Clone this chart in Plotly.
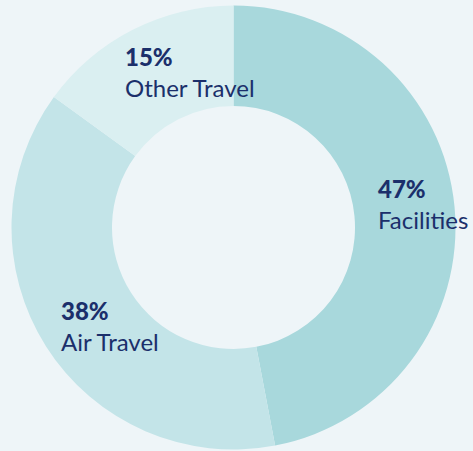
import plotly.graph_objects as go

categories = ["Facilities", "Air Travel", "Other Travel"]
values = [47, 38, 15]
colors = ["#a8d8dc", "#c3e4e8", "#daeff1"]

W, H = 473, 451
cx, cy, R = 233.5, 227.5, 222  # pixel centre (from top) and outer radius
hole = 121.5 / R

fig = go.Figure(go.Pie(
    labels=categories,
    values=values,
    sort=False,
    direction="clockwise",
    rotation=0,
    hole=hole,
    marker=dict(colors=colors, line=dict(width=0)),
    textinfo="none",
    hoverinfo="label+percent",
    showlegend=False,
    domain=dict(x=[(cx - R) / W, (cx + R) / W],
                y=[(H - cy - R) / H, (H - cy + R) / H]),
))

# label anchor positions (pixel, top-left of text block)
label_pos = {"Facilities": (376, 172), "Air Travel": (59, 294), "Other Travel": (123, 40)}
navy = "#1b2f6b"
for cat, val in zip(categories, values):
    px, py = label_pos[cat]
    fig.add_annotation(
        x=px / W, y=1 - py / H, xref="paper", yref="paper",
        xanchor="left", yanchor="top", align="left", showarrow=False,
        text=f"<span style='font-weight:900'>{val}%</span><br>{cat}",
        font=dict(family="Lato, 'Open Sans', sans-serif", size=24, color=navy),
    )

fig.update_layout(
    width=W, height=H,
    margin=dict(l=0, r=0, t=0, b=0),
    paper_bgcolor="#eef5f8",
    plot_bgcolor="#eef5f8",
)

fig.write_html(
    "out.html",
    config={"displayModeBar": False},
    post_script="document.body.style.margin='0';document.body.style.background='#eef5f8';",
)
